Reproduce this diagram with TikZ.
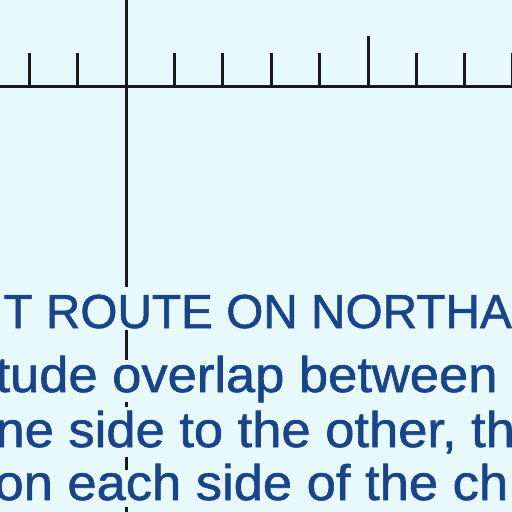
\documentclass[tikz,border=0pt]{standalone}
\usepackage{fontspec}
\setmainfont{Liberation Sans}
\newfontfamily\headfont[FakeBold=1.2]{Liberation Sans}
\newfontfamily\notefont[FakeStretch=1.05,FakeBold=1.2]{Liberation Sans}
\definecolor{chartbg}{RGB}{232,249,252}
\definecolor{chartblue}{RGB}{26,68,138}

\tikzset{every picture/.style={line width=0.75pt}}
\tikzset{
  gridline/.style={line width=2.25pt, color=black!90},
  headtext/.style={anchor=base west, inner sep=0pt, text=chartblue, font=\headfont\fontsize{35.8}{35.8}\selectfont},
  notetext/.style={anchor=base west, inner sep=0pt, text=chartblue, font=\notefont\fontsize{37.5}{37.5}\selectfont}
}

\begin{document}
\begin{tikzpicture}[x=0.75pt,y=0.75pt,yscale=-1,xscale=1]
\useasboundingbox (0,0) rectangle (512,512);
\fill [chartbg] (0,0) rectangle (512,512);
\clip (0,0) rectangle (512,512);

%Straight Lines [id:parallel]
\draw [gridline]    (0,86) -- (512,86) ;
%Straight Lines [id:tick1]
\draw [gridline]    (29,86) -- (29,53) ;
%Straight Lines [id:tick2]
\draw [gridline]    (77,86) -- (77,53) ;
%Straight Lines [id:tick3]
\draw [gridline]    (174,86) -- (174,53) ;
%Straight Lines [id:tick4]
\draw [gridline]    (222,86) -- (222,53) ;
%Straight Lines [id:tick5]
\draw [gridline]    (271,86) -- (271,53) ;
%Straight Lines [id:tick6]
\draw [gridline]    (319,86) -- (319,53) ;
%Straight Lines [id:tick7]
\draw [gridline]    (368,86) -- (368,36) ;
%Straight Lines [id:tick8]
\draw [gridline]    (416,86) -- (416,53) ;
%Straight Lines [id:tick9]
\draw [gridline]    (464,86) -- (464,53) ;
%Straight Lines [id:tick10]
\draw [gridline]    (512,86) -- (512,53) ;

%Straight Lines [id:meridian]
\draw [gridline]    (126,0) -- (126,287) ;
\draw [gridline]    (126,330) -- (126,360) ;
\draw [gridline]    (126,402) -- (126,407) ;
\draw [gridline]    (126,457) -- (126,470) ;
\draw [gridline]    (126,507) -- (126,512) ;

% Text Node
\draw (3,328) node [headtext] (route) {T ROUTE ON NORTHA};
% Text Node
\draw (-5,392) node [notetext] (overlap) {tude overlap between t};
% Text Node
\draw (-5,447) node [notetext] (side) {ne side to the other, th};
% Text Node
\draw (-6,500) node [notetext] (each) {on each side of the ch};

\end{tikzpicture}
\end{document}
